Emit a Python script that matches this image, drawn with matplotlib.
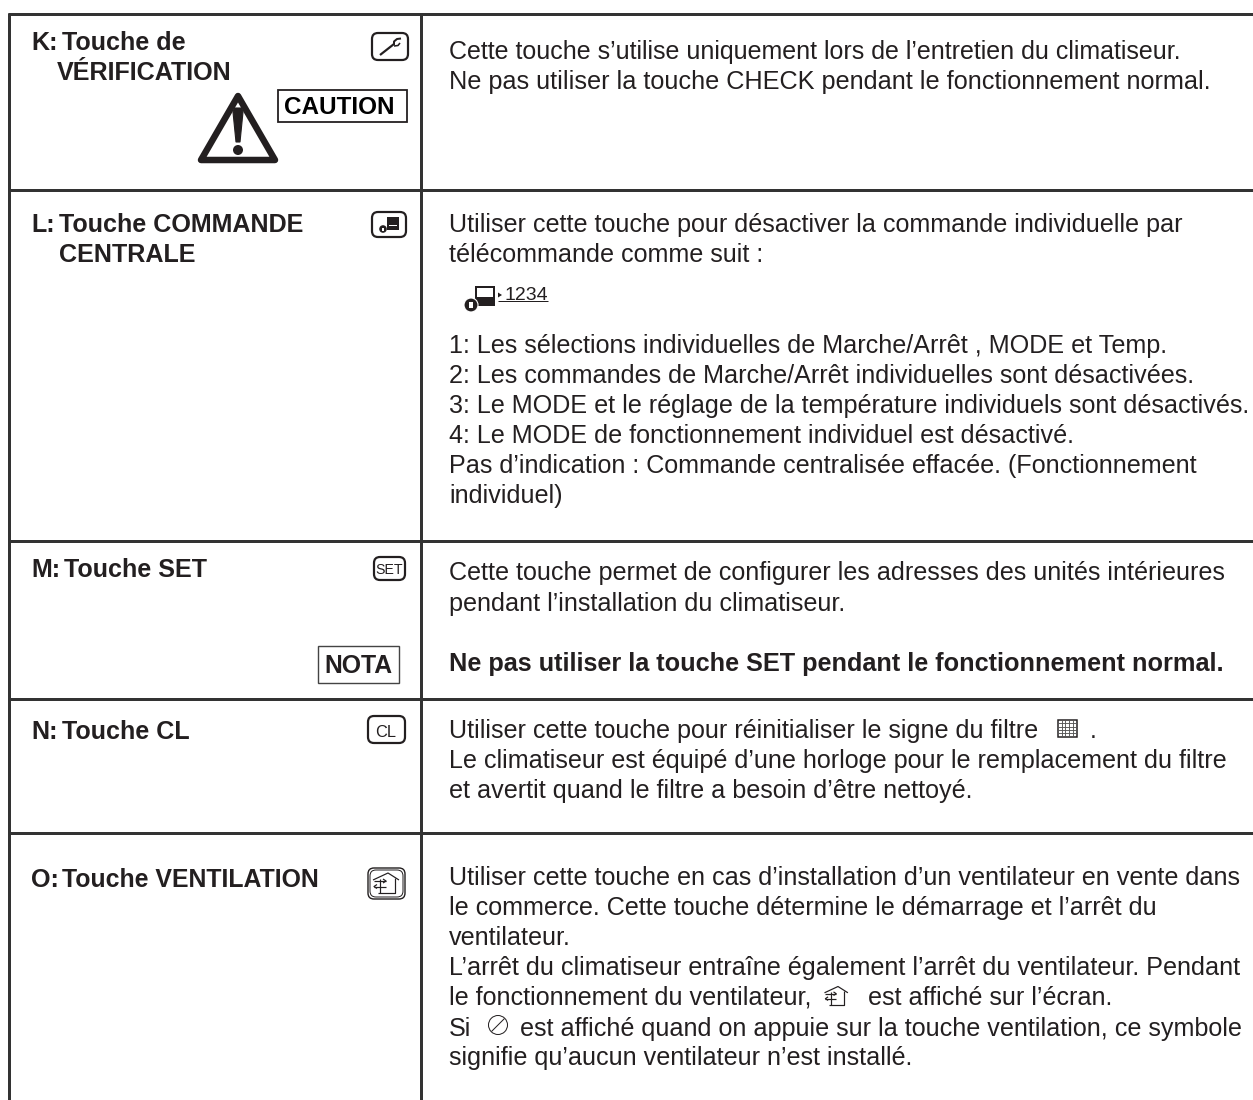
import matplotlib
matplotlib.use("Agg")
import matplotlib.pyplot as plt
from matplotlib.patches import FancyBboxPatch, Rectangle, Polygon, Circle

# ---- content ----
row_keys = ["K:", "L:", "M:", "N:", "O:"]
row_titles = [["Touche de", "VÉRIFICATION"], ["Touche COMMANDE", "CENTRALE"],
              ["Touche SET"], ["Touche CL"], ["Touche VENTILATION"]]
body_k = ["Cette touche s’utilise uniquement lors de l’entretien du climatiseur.",
          "Ne pas utiliser la touche CHECK pendant le fonctionnement normal."]
body_l = ["Utiliser cette touche pour désactiver la commande individuelle par",
          "télécommande comme suit :"]
body_l2 = ["1: Les sélections individuelles de Marche/Arrêt , MODE et Temp.",
           "2: Les commandes de Marche/Arrêt individuelles sont désactivées.",
           "3: Le MODE et le réglage de la température individuels sont désactivés.",
           "4: Le MODE de fonctionnement individuel est désactivé.",
           "Pas d’indication : Commande centralisée effacée. (Fonctionnement",
           "individuel)"]
body_m = ["Cette touche permet de configurer les adresses des unités intérieures",
          "pendant l’installation du climatiseur."]
body_m_bold = "Ne pas utiliser la touche SET pendant le fonctionnement normal."
body_n = ["Le climatiseur est équipé d’une horloge pour le remplacement du filtre",
          "et avertit quand le filtre a besoin d’être nettoyé."]
body_n_first = ["Utiliser cette touche pour réinitialiser le signe du filtre", "."]
body_o = ["Utiliser cette touche en cas d’installation d’un ventilateur en vente dans",
          "le commerce. Cette touche détermine le démarrage et l’arrêt du",
          "ventilateur.",
          "L’arrêt du climatiseur entraîne également l’arrêt du ventilateur. Pendant"]
body_o5 = ["le fonctionnement du ventilateur,", "est affiché sur l’écran."]
body_o6 = ["Si", "est affiché quand on appuie sur la touche ventilation, ce symbole"]
body_o7 = "signifie qu’aucun ventilateur n’est installé."

# ---- style ----
INK = "#231f20"
LINE = "#333333"
FONT = "Liberation Sans"
FS = 18.1       # body size, pt at 100 dpi
FST = 18.05     # titles
px = 0.72       # points per pixel

fig = plt.figure(figsize=(12.53, 11.0), dpi=100, facecolor="white")
ax = fig.add_axes([0, 0, 1, 1])
ax.set_xlim(0, 1253)
ax.set_ylim(1100, 0)
ax.axis("off")


def T(x, y, s, size=FS, weight="normal", ha="left", color=INK, family=FONT):
    ax.text(x, y, s, fontsize=size, fontweight=weight, ha=ha, va="baseline",
            color=color, family=family)


def L(xs, ys, lw=3.0, color=LINE, cap="butt"):
    ax.plot(xs, ys, color=color, lw=lw * px, solid_capstyle=cap, solid_joinstyle="round")


def button(x0, y0, x1, y1, lw=2.2, pad=6):
    ax.add_patch(FancyBboxPatch((x0 + pad, y0 + pad), x1 - x0 - 2 * pad, y1 - y0 - 2 * pad,
                                boxstyle=f"round,pad={pad},rounding_size={pad}",
                                fc="white", ec=INK, lw=lw * px))


def house(x, y, s=1.0, lw=1.2):
    """house pictogram with in/out arrows; (x, y) = apex of the roof"""
    L([x - 15 * s, x, x + 11 * s], [y + 7 * s, y, y + 7 * s], lw=lw, color=INK)
    L([x + 7 * s, x + 7 * s, x - 10 * s], [y + 5 * s, y + 20 * s, y + 20 * s], lw=lw, color=INK)
    L([x - 14 * s, x - 2 * s], [y + 8 * s, y + 8 * s], lw=lw, color=INK)
    L([x - 5 * s, x - 2 * s, x - 5 * s], [y + 6 * s, y + 8 * s, y + 10 * s], lw=lw, color=INK)
    L([x - 14 * s, x - 2 * s], [y + 13.5 * s, y + 13.5 * s], lw=lw, color=INK)
    L([x - 11 * s, x - 14 * s, x - 11 * s], [y + 11.5 * s, y + 13.5 * s, y + 15.5 * s], lw=lw, color=INK)
    L([x - 8 * s, x - 8 * s], [y + 6 * s, y + 20 * s], lw=lw, color=INK)


# ---- table rules ----
L([8, 1253], [14, 14])
L([9, 9], [13, 1100])
L([421, 421], [13, 1100])
for yy in (190, 541, 699, 833):
    L([8, 1253], [yy, yy])

# ---- left column ----
key_y = [50, 232, 577, 739, 887]
key_title_x = [62, 59, 64, 62, 62]
title_size = [FST, FST, FST, FST, 17.9]
for key, title, yy, xx, sz in zip(row_keys, row_titles, key_y, key_title_x, title_size):
    T(31, yy, key, size=FST, weight="bold")
    T(xx, yy, title[0], size=sz, weight="bold")
    if len(title) > 1:
        T(57 if key == "K:" else 59, yy + 30, title[1], size=FST, weight="bold")

# ---- right column ----
T(449, 59, body_k[0], size=17.98)
T(449, 89, body_k[1], size=18.15)
for i, s in enumerate(body_l):
    T(449, 232 + 30 * i, s)
for i, s in enumerate(body_l2):
    T(449, 353 + 30 * i, s)
for i, s in enumerate(body_m):
    T(449, 580 + 30.5 * i, s)
T(449, 671, body_m_bold, weight="bold", size=18.15)
T(449, 738, body_n_first[0])
T(1090, 738, body_n_first[1])
for i, s in enumerate(body_n):
    T(449, 768 + 30 * i, s)
for i, s in enumerate(body_o):
    T(449, 885 + 30 * i, s)
T(449, 1005, body_o5[0])
T(868, 1005, body_o5[1])
T(449, 1036, body_o6[0])
T(520.5, 1036, body_o6[1])
T(449, 1065, body_o7)

# ---- K icons ----
button(372, 33, 408, 60)
L([380, 394], [55, 44], lw=2.2, color=INK)
L([394, 394, 397, 401], [45, 41.5, 39, 38.5], lw=2.0, color=INK)
L([394, 398, 400], [46, 45.5, 43], lw=1.6, color=INK)
ax.add_patch(Rectangle((278, 89.5), 129, 32.5, fc="white", ec=INK, lw=1.8 * px))
T(339, 114, "CAUTION", size=17.5, weight="bold", ha="center", color="black")
ax.add_patch(Polygon([(238, 96), (201, 160), (275, 160)], closed=True, fc="white", ec=INK,
                     lw=6.5 * px, joinstyle="round"))
ax.add_patch(Polygon([(233, 112), (234.5, 108), (241.5, 108), (243, 112), (240, 142), (236, 142)],
                     closed=True, fc=INK, ec=INK, lw=0.8))
ax.add_patch(Circle((238, 150), 5, fc=INK, ec="none"))

# ---- L icons ----
button(372, 212, 406, 237)
ax.add_patch(Rectangle((387, 217), 11.5, 13, fc=INK, ec="none"))
ax.add_patch(Rectangle((389, 225), 8, 1, fc="white", ec="none"))
ax.add_patch(Circle((383, 229), 3.8, fc=INK, ec="none"))
ax.add_patch(Rectangle((382, 228), 2, 2.5, fc="white", ec="none"))

# indicator line 1234
ax.add_patch(Rectangle((475, 286), 20, 20, fc=INK, ec="none"))
ax.add_patch(Rectangle((477, 288), 16, 9, fc="white", ec="none"))
ax.add_patch(Circle((471, 305), 7, fc=INK, ec="white", lw=0.8))
ax.add_patch(Rectangle((469, 302), 4, 6, fc="white", ec="none"))
ax.add_patch(Polygon([(498, 292.5), (498, 297.5), (502, 295)], closed=True, fc=INK, ec="none"))
T(504, 300, "1234", size=14.0)
L([498, 548], [301, 301], lw=1.0, color=INK)

# ---- M icons ----
button(374, 557, 405, 580)
T(389.5, 573.5, "SET", size=10.2, ha="center")
ax.add_patch(Rectangle((317.5, 645.5), 81, 37, fc="white", ec="#444444", lw=1.4 * px))
T(358, 673, "NOTA", size=17.8, weight="bold", ha="center")

# ---- N icons ----
button(368, 716, 405, 743)
T(386, 737, "CL", size=11.8, ha="center")
ax.add_patch(Rectangle((1058, 720), 18.5, 16.5, fc="white", ec=INK, lw=1.5 * px))
for gx in (1061.7, 1065.4, 1069.1, 1072.8):
    L([gx, gx], [720, 736.5], lw=0.9, color="#555555")
for gy in (723.3, 726.6, 729.9, 733.2):
    L([1058, 1076.5], [gy, gy], lw=0.9, color="#555555")

# ---- O icons ----
button(368, 868, 405, 899, lw=1.4)
button(370, 870, 403, 897, lw=1.0)
house(388, 873, s=1.0, lw=1.2)
house(838, 986.5, s=0.9, lw=1.2)
ax.add_patch(Circle((498, 1025), 9.5, fc="white", ec=INK, lw=1.0 * px))
L([491.5, 504.5], [1031.5, 1018.5], lw=1.0, color=INK)

fig.savefig("out.png", dpi=100, facecolor="white")
